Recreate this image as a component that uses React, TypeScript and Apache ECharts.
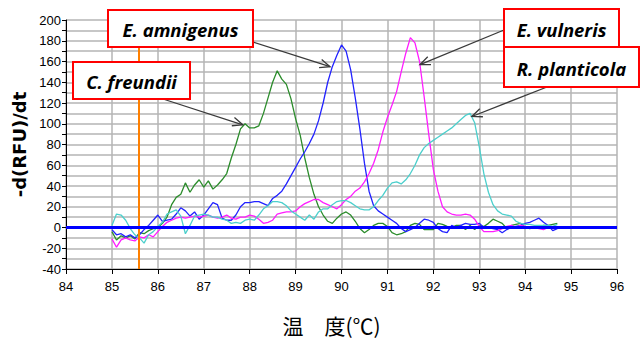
import React, { useEffect, useRef } from "react";
import * as echarts from "echarts";

// Melt temperatures (°C), one reading every 0.1 °C
const temps = [
  85.0, 85.1, 85.2, 85.3, 85.4, 85.5, 85.6, 85.7, 85.8, 85.9,
  86.0, 86.1, 86.2, 86.3, 86.4, 86.5, 86.6, 86.7, 86.8, 86.9,
  87.0, 87.1, 87.2, 87.3, 87.4, 87.5, 87.6, 87.7, 87.8, 87.9,
  88.0, 88.1, 88.2, 88.3, 88.4, 88.5, 88.6, 88.7, 88.8, 88.9,
  89.0, 89.1, 89.2, 89.3, 89.4, 89.5, 89.6, 89.7, 89.8, 89.9,
  90.0, 90.1, 90.2, 90.3, 90.4, 90.5, 90.6, 90.7, 90.8, 90.9,
  91.0, 91.1, 91.2, 91.3, 91.4, 91.5, 91.6, 91.7, 91.8, 91.9,
  92.0, 92.1, 92.2, 92.3, 92.4, 92.5, 92.6, 92.7, 92.8, 92.9,
  93.0, 93.1, 93.2, 93.3, 93.4, 93.5, 93.6, 93.7, 93.8, 93.9,
  94.0, 94.1, 94.2, 94.3, 94.4, 94.5, 94.6, 94.7,
];

// -d(RFU)/dt melt curves
const cFreundii = [
  -4, -12, -8, -10, -8, -11, -5, -6, -3, -1,
  0, 4, 10, 22, 29, 32, 43, 34, 41, 46,
  39, 45, 37, 41, 46, 52, 67, 80, 95, 100,
  96, 96, 98, 110, 125, 140, 151, 143, 138, 124,
  105, 89, 67, 48, 32, 20, 12, 6, 4, 9,
  13, 15, 12, 6, -1, -5, -2, 2, 4, 4,
  1, -5, -7, -6, -4, 2, 4, 3, -2, -2,
  -2, 4, 3, 1, 0, 2, 2, -2, 2, -2,
  2, 1, 4, 8, 6, 4, -1, 2, 3, 4,
  0, -1, 0, 0, 2, 2, 3, 4,
];

const eAmnigenus = [
  -2, -7, -6, -9, -7, -10, -7, -2, 2, 7,
  12, 6, 7, 8, 13, 19, 16, 11, 15, 8,
  12, 18, 24, 22, 9, 7, 7, 12, 20, 24,
  24, 25, 25, 23, 21, 28, 31, 35, 42, 50,
  58, 66, 73, 81, 90, 103, 120, 140, 155, 166,
  176, 170, 152, 125, 95, 62, 35, 21, 16, 13,
  10, 7, 4, -1, -4, -2, 0, 4, 8, 7,
  5, -1, -4, -5, 2, 0, 2, 4, 3, 3,
  4, 0, 0, -1, -2, -5, -2, 0, 1, 2,
  4, 5, 7, 9, 5, 2, -3, -1,
];

const eVulneris = [
  -11, -19, -12, -10, -12, -13, -9, -10, -7, -9,
  -4, 1, 5, 7, 9, 10, 9, 10, 11, 10,
  11, 12, 10, 9, 10, 12, 9, 8, 10, 10,
  12, 11, 8, 4, 5, 7, 13, 14, 15, 15,
  16, 20, 23, 25, 27, 27, 24, 22, 20, 18,
  22, 27, 30, 35, 38, 44, 52, 62, 75, 92,
  106, 118, 131, 150, 168, 183, 178, 160, 126, 90,
  56, 35, 20, 15, 13, 12, 12, 13, 12, 8,
  1, -4, -4, -4, -3, -1, 1, 2, 0, 2,
  1, 0, 0, -1, -2, 0, -1, 0,
];

const rPlanticola = [
  2, 13, 12, 7, -1, -7, -10, -15, -7, -4,
  1, 5, 13, 15, 17, 11, -6, 2, 11, 12,
  13, 12, 10, 10, 8, 7, 4, 5, 4, 7,
  8, 7, 12, 18, 21, 25, 25, 24, 21, 16,
  13, 10, 7, 12, 8, 15, 18, 18, 22, 25,
  26, 26, 24, 21, 18, 17, 17, 20, 26, 31,
  38, 43, 44, 42, 46, 52, 60, 70, 77, 81,
  84, 87, 90, 93, 96, 100, 104, 108, 110, 101,
  78, 52, 34, 22, 16, 13, 12, 11, 6, 4,
  3, 3, 2, 2, 2, 2, 1, 3,
];

const speciesNames = ["C. freundii", "E. amnigenus", "E. vulneris", "R. planticola"];
const speciesValues = [cFreundii, eAmnigenus, eVulneris, rPlanticola];
const speciesColors = ["#2b8c2b", "#2222ff", "#ff1cff", "#4ccfcc"];

// Points on each curve that the callout arrows point at [temp, value]
const calloutTips = [
  [87.85, 99],
  [89.75, 155],
  [91.71, 157],
  [92.84, 107],
];

const thresholdTemp = 85.58;

// Callout box layout (pixels) and where each arrow leaves its box
const calloutLayout = [
  { box: [73, 62, 117, 37], from: [163, 99] },
  { box: [108, 10, 145, 37], from: [253, 42] },
  { box: [504, 9, 115, 38], from: [504, 30] },
  { box: [504, 47, 135, 40], from: [547, 87] },
];

const gridColor = "#b4b4b4";

export default function App() {
  const ref = useRef<HTMLDivElement>(null);

  useEffect(() => {
    if (!ref.current) return;
    const chart = echarts.init(ref.current, undefined, { renderer: "svg" });

    const series: any[] = speciesNames.map((name, i) => ({
      name,
      type: "line",
      data: temps.map((t, k) => [t, speciesValues[i][k]]),
      showSymbol: false,
      symbol: "none",
      lineStyle: { color: speciesColors[i], width: 1.3 },
      itemStyle: { color: speciesColors[i] },
      z: 2,
    }));

    series[series.length - 1].markLine = {
      silent: true,
      symbol: ["none", "none"],
      label: { show: false },
      emphasis: { disabled: true },
      data: [
        { xAxis: thresholdTemp, lineStyle: { color: "#ff8000", width: 2, type: "solid" } },
        { yAxis: 0, lineStyle: { color: "#0000ff", width: 3, type: "solid" } },
      ],
    };

    chart.setOption({
      animation: false,
      backgroundColor: "#fff",
      grid: { left: 66, right: 26, top: 20, bottom: 67, containLabel: false },
      xAxis: {
        type: "value",
        min: 84,
        max: 96,
        interval: 1,
        name: "温　度(℃)",
        nameLocation: "middle",
        nameGap: 45,
        nameTextStyle: {
          fontFamily: "Noto Sans CJK JP",
          fontSize: 21,
          color: "#000",
          padding: [0, 20, 0, 0],
        },
        axisLine: { show: true, onZero: false, lineStyle: { color: "#000", width: 1 } },
        axisTick: { show: true, length: 5, lineStyle: { color: "#000" } },
        axisLabel: { fontFamily: "Liberation Sans", fontSize: 13, color: "#000", margin: 11 },
        splitLine: { show: true, lineStyle: { color: gridColor, width: 1.5 } },
      },
      yAxis: {
        type: "value",
        min: -40,
        max: 200,
        interval: 20,
        name: "-d(RFU)/dt",
        nameLocation: "middle",
        nameGap: 32,
        nameTextStyle: {
          fontFamily: "DejaVu Sans",
          fontWeight: "bold",
          fontSize: 18,
          color: "#000",
        },
        axisLine: { show: true, onZero: false, lineStyle: { color: "#000", width: 1 } },
        axisTick: { show: true, length: 4, lineStyle: { color: "#000" } },
        minorTick: { show: true, splitNumber: 2, length: 4, lineStyle: { color: "#000" } },
        axisLabel: { fontFamily: "Liberation Sans", fontSize: 13, color: "#000", margin: 5 },
        splitLine: { show: true, lineStyle: { color: gridColor, width: 1.5 } },
        minorSplitLine: { show: true, lineStyle: { color: gridColor, width: 1.5 } },
      },
      series,
    });

    // Callout boxes with arrows to the melt peaks
    const elements: any[] = [];
    calloutLayout.forEach((c, i) => {
      const [bx, by, bw, bh] = c.box;
      const tip = chart.convertToPixel({ gridIndex: 0 }, calloutTips[i]) as number[];
      const [fx, fy] = c.from;
      const ang = Math.atan2(tip[1] - fy, tip[0] - fx);
      const head = 11;
      const spread = 0.4;
      const p1 = [tip[0] - head * Math.cos(ang - spread), tip[1] - head * Math.sin(ang - spread)];
      const p2 = [tip[0] - head * Math.cos(ang + spread), tip[1] - head * Math.sin(ang + spread)];
      elements.push({
        type: "line",
        z: 20,
        shape: { x1: fx, y1: fy, x2: tip[0], y2: tip[1] },
        style: { stroke: "#3a3a3a", lineWidth: 1.3 },
      });
      elements.push({
        type: "polyline",
        z: 20,
        shape: { points: [p1, tip, p2] },
        style: { stroke: "#3a3a3a", lineWidth: 1.3, fill: "none" },
      });
      elements.push({
        type: "rect",
        z: 21,
        shape: { x: bx, y: by, width: bw, height: bh },
        style: { fill: "#fff", stroke: "#ff0000", lineWidth: 2 },
      });
      elements.push({
        type: "text",
        z: 22,
        x: bx + bw / 2,
        y: by + bh / 2 + 1,
        style: {
          text: speciesNames[i],
          fontFamily: "Open Sans",
          fontStyle: "italic",
          fontWeight: "bold",
          fontSize: 18.5,
          fill: "#000",
          align: "center",
          verticalAlign: "middle",
        },
      });
    });
    chart.setOption({ graphic: { elements } });

    return () => chart.dispose();
  }, []);

  return (
    <div
      ref={ref}
      style={{ position: "fixed", left: 0, top: 0, width: 643, height: 340, background: "#fff" }}
    />
  );
}
